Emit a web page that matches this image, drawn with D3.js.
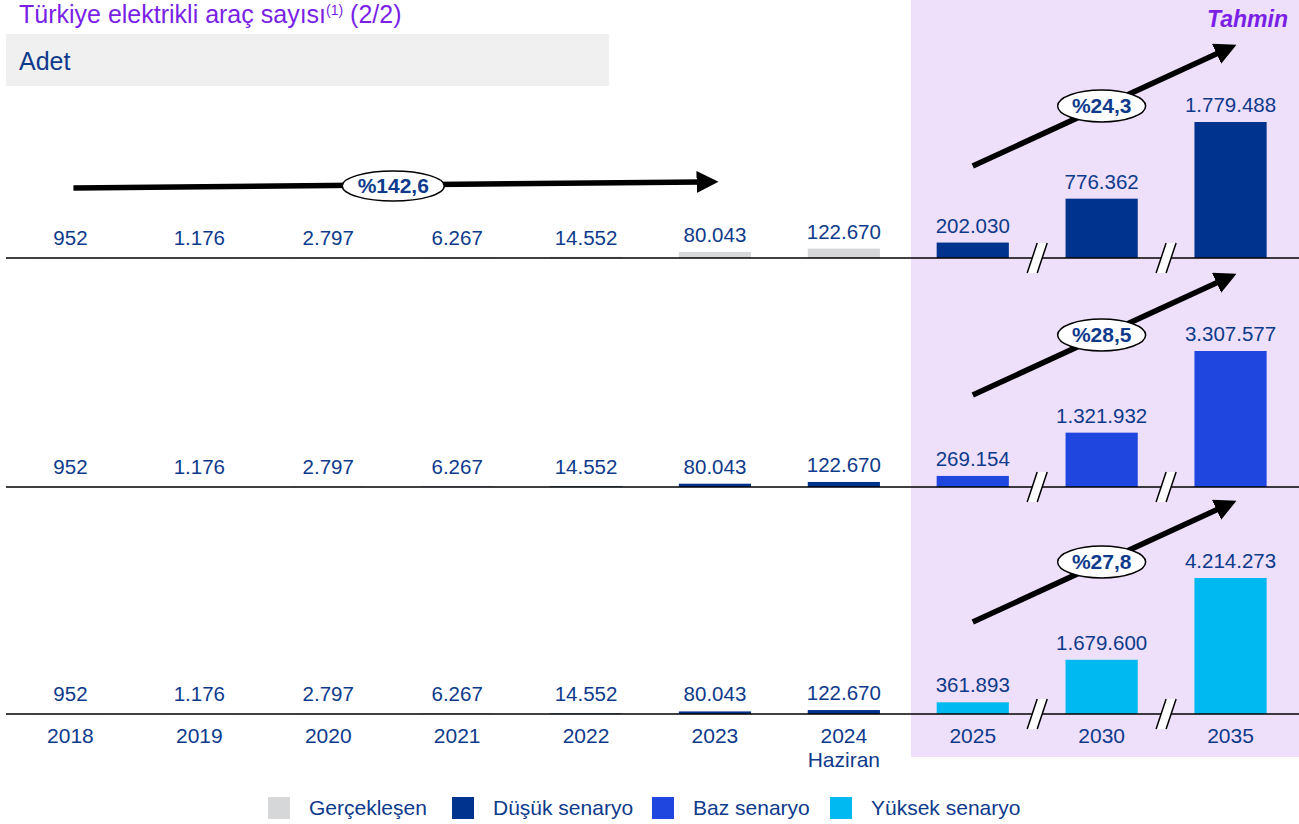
<!DOCTYPE html>
<html>
<head>
<meta charset="utf-8">
<script src="https://cdn.jsdelivr.net/npm/d3@7"></script>
<style>
  body { margin: 0; background: #fff; }
  svg { font-family: Arial, "Liberation Sans", sans-serif; display: block; }
</style>
</head>
<body>
<svg id="chart" width="1299" height="824"></svg>
<script>
// categories and values
var years = ["2018", "2019", "2020", "2021", "2022", "2023", "2024", "2025", "2030", "2035"];
var yearSub = ["", "", "", "", "", "", "Haziran", "", "", ""];
var actual = [952, 1176, 2797, 6267, 14552, 80043, 122670];
var lowCase = [202030, 776362, 1779488];
var baseCase = [269154, 1321932, 3307577];
var highCase = [361893, 1679600, 4214273];
var cagrHist = "%142,6";
var cagrRows = ["%24,3", "%28,5", "%27,8"];
var legendLabels = ["Gerçekleşen", "Düşük senaryo", "Baz senaryo", "Yüksek senaryo"];

var colGray = "#d6d7d9", colLow = "#00338d", colBase = "#1f47e0", colHigh = "#00b9f1";
var textBlue = "#0e3a8c";
var fmt = function (v) { return d3.format(",")(v).replace(/,/g, "."); };

var svg = d3.select("#chart");
var W = 1299;

var x = d3.scaleBand().domain(years).range([6, 1295]).paddingInner(0.44).paddingOuter(0.22);

// forecast shade
svg.append("rect").attr("x", 911).attr("y", 0).attr("width", W - 911).attr("height", 757)
    .attr("fill", "#eee0fa");

// title
var title = svg.append("text").attr("x", 19).attr("y", 23).attr("fill", "#7a1fe6")
    .style("font-size", "25px");
title.append("tspan").text("Türkiye elektrikli araç sayısı");
title.append("tspan").text("(1)").style("font-size", "14px").attr("dy", -8);
title.append("tspan").text(" (2/2)").attr("dy", 8);

svg.append("rect").attr("x", 6).attr("y", 34).attr("width", 603).attr("height", 52).attr("fill", "#f0f0f0");
svg.append("text").attr("x", 19).attr("y", 70).attr("fill", textBlue).style("font-size", "25px").text("Adet");

svg.append("text").attr("x", 1288).attr("y", 27).attr("text-anchor", "end").attr("fill", "#7a1fe6")
    .style("font-size", "23px").style("font-weight", "bold").style("font-style", "italic").text("Tahmin");

// arrow marker
svg.append("defs").append("marker").attr("id", "ah").attr("viewBox", "0 0 10 10")
    .attr("refX", 2).attr("refY", 5).attr("markerWidth", 4).attr("markerHeight", 4)
    .attr("orient", "auto").attr("markerUnits", "strokeWidth")
    .append("path").attr("d", "M0,0 L10,5 L0,10 z").attr("fill", "#000");

var rows = [
    {base: 258, forecast: lowCase, color: colLow, histColor: colGray, cagr: cagrRows[0], hist: true},
    {base: 487, forecast: baseCase, color: colBase, histColor: colLow, cagr: cagrRows[1], hist: false},
    {base: 714, forecast: highCase, color: colHigh, histColor: colLow, cagr: cagrRows[2], hist: false}
];

function cagrLabel(g, cx, cy, rx, ry, txt) {
    g.append("ellipse").attr("cx", cx).attr("cy", cy).attr("rx", rx).attr("ry", ry)
        .attr("fill", "#fff").attr("stroke", "#000").attr("stroke-width", 1.5);
    g.append("text").attr("x", cx).attr("y", cy + 7).attr("text-anchor", "middle")
        .attr("fill", textBlue).style("font-size", "21px").style("font-weight", "bold").text(txt);
}

rows.forEach(function (r) {
    var g = svg.append("g");
    var vals = actual.concat(r.forecast);
    var data = years.map(function (yr, i) {
        return {year: yr, value: vals[i], color: i < actual.length ? r.histColor : r.color};
    });
    var y = d3.scaleLinear().domain([0, d3.max(vals)]).range([r.base, r.base - 136]);

    g.selectAll("rect.bar").data(data).enter().append("rect").attr("class", "bar")
        .attr("x", function (d) { return x(d.year); })
        .attr("width", x.bandwidth())
        .attr("y", function (d) { return y(d.value); })
        .attr("height", function (d) { return r.base - y(d.value); })
        .attr("fill", function (d) { return d.color; });

    g.selectAll("text.val").data(data).enter().append("text").attr("class", "val")
        .attr("x", function (d) { return x(d.year) + x.bandwidth() / 2; })
        .attr("y", function (d) { return Math.min(y(d.value), r.base - 3) - 10; })
        .attr("text-anchor", "middle").attr("fill", textBlue).style("font-size", "20.5px")
        .text(function (d) { return fmt(d.value); });

    g.append("line").attr("x1", 6).attr("x2", W).attr("y1", r.base).attr("y2", r.base)
        .attr("stroke", "#000").attr("stroke-width", 1.5);

    // axis breaks
    [["2025", "2030"], ["2030", "2035"]].forEach(function (p) {
        var bx = (x(p[0]) + x.bandwidth() + x(p[1])) / 2;
        var dx = 5, h = 15;
        g.append("path")
            .attr("d", "M" + (bx - 5 - dx) + "," + (r.base + h) + "L" + (bx - 5 + dx) + "," + (r.base - h) +
                "L" + (bx + 5 + dx) + "," + (r.base - h) + "L" + (bx + 5 - dx) + "," + (r.base + h) + "Z")
            .attr("fill", "#fff");
        [-5, 5].forEach(function (o) {
            g.append("line").attr("x1", bx + o - dx).attr("y1", r.base + h)
                .attr("x2", bx + o + dx).attr("y2", r.base - h)
                .attr("stroke", "#000").attr("stroke-width", 1.5);
        });
    });

    // forecast growth arrow
    var fx1 = x("2025") + x.bandwidth() / 2, fx2 = x("2035") + x.bandwidth() / 2 - 10;
    g.append("line").attr("x1", fx1).attr("y1", r.base - 92).attr("x2", fx2).attr("y2", r.base - 206)
        .attr("stroke", "#000").attr("stroke-width", 5.5).attr("marker-end", "url(#ah)");
    cagrLabel(g, x("2030") + x.bandwidth() / 2, r.base - 152, 44, 16, r.cagr);

    if (r.hist) {
        var hx1 = x("2018") + x.bandwidth() / 2 + 3, hx2 = x("2023") + x.bandwidth() / 2 - 14;
        g.append("line").attr("x1", hx1).attr("y1", r.base - 70).attr("x2", hx2).attr("y2", r.base - 76)
            .attr("stroke", "#000").attr("stroke-width", 5.5).attr("marker-end", "url(#ah)");
        cagrLabel(g, x("2020") + x.bandwidth() / 2 + 65, r.base - 72, 51, 15, cagrHist);
    }
});

// year labels
var yl = svg.append("g");
years.forEach(function (yr, i) {
    var t = yl.append("text").attr("x", x(yr) + x.bandwidth() / 2).attr("y", 743)
        .attr("text-anchor", "middle").attr("fill", textBlue).style("font-size", "21px");
    t.append("tspan").text(yr);
    if (yearSub[i]) t.append("tspan").attr("x", x(yr) + x.bandwidth() / 2).attr("dy", 24).text(yearSub[i]);
});

// legend
var legColors = [colGray, colLow, colBase, colHigh];
var legX = [268, 452, 652, 830];
var lg = svg.append("g");
legendLabels.forEach(function (l, i) {
    lg.append("rect").attr("x", legX[i]).attr("y", 797).attr("width", 22).attr("height", 22).attr("fill", legColors[i]);
    lg.append("text").attr("x", legX[i] + 41).attr("y", 815).attr("fill", textBlue).style("font-size", "21px").text(l);
});
</script>
</body>
</html>
